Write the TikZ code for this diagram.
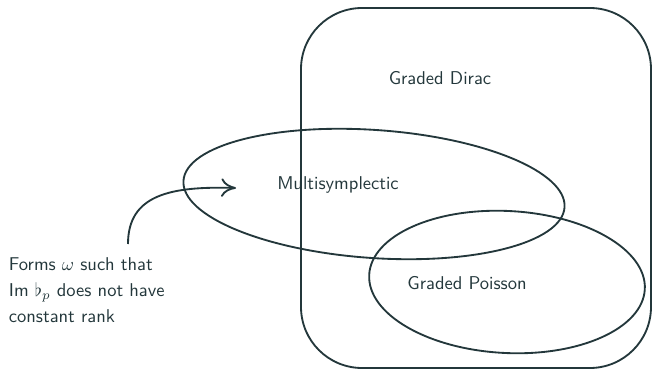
\documentclass[tikz,border=0pt]{standalone}
\usepackage{amssymb}
\usetikzlibrary{arrows.meta}
\definecolor{darkteal}{HTML}{23373B}

\begin{document}
\begin{tikzpicture}[x=0.54pt,y=-0.54pt,line width=1pt,draw=darkteal,
  set/.style={draw=darkteal},
  set label/.style={text=darkteal,font=\sffamily},
  note/.style={text=darkteal,font=\sffamily,align=left,inner sep=0pt,
    execute at begin node={\baselineskip=14pt}}]

 \useasboundingbox (0,0) rectangle (652,370);

 % the three classes
 \draw[set,rounded corners=33pt] (301,8) rectangle (651,368);
 \draw[set,rotate around={-4:(374,194)}] (374,194) ellipse [x radius=191,y radius=64];
 \draw[set,rotate around={-3:(507,282)}] (507,282) ellipse [x radius=138,y radius=71];

 \node[set label] (dirac) at (440,78) {Graded Dirac};
 \node[set label] (multi) at (338,185) {Multisymplectic};
 \node[set label] (poisson) at (467,283) {Graded Poisson};

 \node[note,anchor=north west] (forms) at (8,257)
   {Forms $\omega$ such that\\ Im $\flat_p$ does not have\\ constant rank};

 \coordinate (src) at (128,244);
 \coordinate (tgt) at (236,188);
 \draw[darkteal,-{To[length=8pt,width=10pt]}] (src) .. controls (128,195) and (170,186) .. (tgt);

\end{tikzpicture}
\end{document}
